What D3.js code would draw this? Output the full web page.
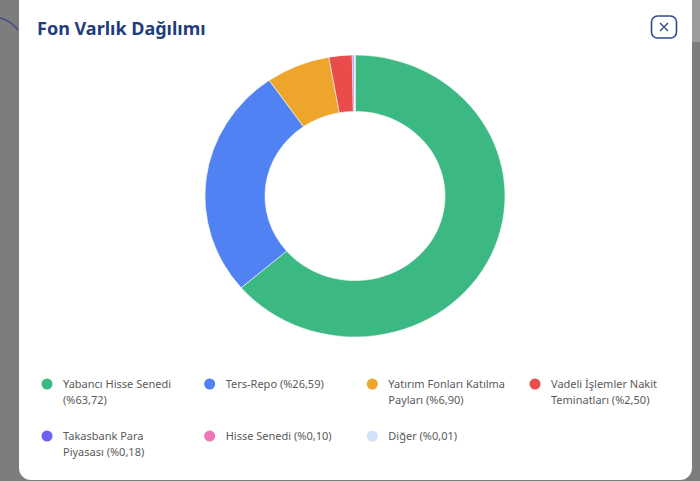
<!DOCTYPE html>
<html>
  <head>
    <meta charset="utf-8">
    <title>Fon Varlık Dağılımı</title>
    <script src="https://d3js.org/d3.v7.min.js"></script>
    <style>
      body { margin: 0; background: #7f7f7f; overflow: hidden; }
      svg { display: block; font-family: "Noto Sans", "Open Sans", sans-serif; }
    </style>
  </head>
  <body>
    <script>
      // chart data
      const labels = ['Yabancı Hisse Senedi', 'Ters-Repo', 'Yatırım Fonları Katılma Payları',
                      'Vadeli İşlemler Nakit Teminatları', 'Takasbank Para Piyasası', 'Hisse Senedi', 'Diğer'];
      const values = [63.72, 26.59, 6.90, 2.50, 0.18, 0.10, 0.01];
      const colors = ['#3cb982', '#5182f3', '#eda52b', '#e84d4b', '#6b63ef', '#ef76b9', '#cfe2fb'];

      const w = 700;
      const h = 481;

      const svg = d3.select('body')
                    .append('svg')
                    .attr('width', w)
                    .attr('height', h);

      // dimmed page behind the modal
      svg.append('rect').attr('width', w).attr('height', h).attr('fill', '#7d7d7d');
      svg.append('rect').attr('x', 690).attr('width', 10).attr('height', 42).attr('fill', '#9c9c9c');
      svg.append('path')
         .attr('d', 'M0,18 Q10,20 18,30')
         .attr('fill', 'none').attr('stroke', '#3d4f86').attr('stroke-width', 1.5);

      // modal
      svg.append('rect')
         .attr('x', 19).attr('y', -12)
         .attr('width', 673).attr('height', 492)
         .attr('rx', 12)
         .attr('fill', '#fff');

      svg.append('text')
         .attr('x', 37).attr('y', 35)
         .attr('font-size', 18)
         .attr('font-weight', 700)
         .attr('fill', '#1f3d7e')
         .text('Fon Varlık Dağılımı');

      // close button
      const close = svg.append('g').attr('transform', 'translate(664,27)');
      close.append('rect')
           .attr('x', -12.5).attr('y', -11)
           .attr('width', 25).attr('height', 22)
           .attr('rx', 6)
           .attr('fill', '#fff')
           .attr('stroke', '#2d4b8d')
           .attr('stroke-width', 1.6);
      close.append('path')
           .attr('d', 'M-4,-4L4,4M4,-4L-4,4')
           .attr('stroke', '#2d4b8d')
           .attr('stroke-width', 1.4);

      // donut
      const pie = d3.pie().sort(null).value(d => d);
      const arc = d3.arc().innerRadius(90).outerRadius(150);

      svg.append('g')
         .attr('transform', 'translate(355,196) scale(1,0.94)')
         .selectAll('path')
         .data(pie(values))
         .enter()
         .append('path')
         .attr('d', arc)
         .attr('fill', (d, i) => colors[i])
         .attr('stroke', '#fff')
         .attr('stroke-width', 0.6);

      // legend
      const colX = d3.scalePoint().domain([0, 1, 2, 3]).range([47, 535]);
      const rowY = d3.scalePoint().domain([0, 1]).range([384, 436]);
      const fmt = v => '(%' + v.toFixed(2).replace('.', ',') + ')';

      const items = svg.selectAll('g.legend')
                       .data(labels)
                       .enter()
                       .append('g')
                       .attr('class', 'legend')
                       .attr('transform', (d, i) => `translate(${colX(i % 4)},${rowY(Math.floor(i / 4))})`);

      items.append('circle')
           .attr('r', 5.5)
           .attr('fill', (d, i) => colors[i]);

      items.each(function(d, i) {
        const g = d3.select(this);
        const words = (d + ' ' + fmt(values[i])).split(' ');
        const text = g.append('text')
                      .attr('x', 16)
                      .attr('y', 4)
                      .attr('font-size', 11)
                      .attr('fill', '#5a5a5a');
        let line = [];
        let tspan = text.append('tspan').attr('x', 16).attr('dy', 0);
        words.forEach(word => {
          line.push(word);
          tspan.text(line.join(' '));
          if (tspan.node().getComputedTextLength() > 122 && line.length > 1) {
            line.pop();
            tspan.text(line.join(' '));
            line = [word];
            tspan = text.append('tspan').attr('x', 16).attr('dy', 16).text(word);
          }
        });
      });
    </script>
  </body>
</html>
